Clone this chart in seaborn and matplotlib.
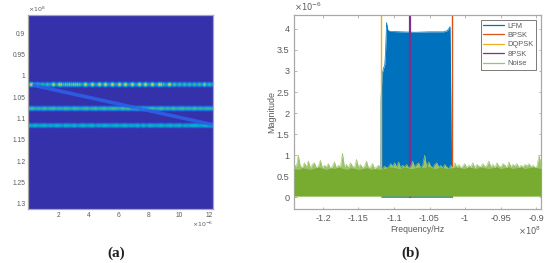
import matplotlib
matplotlib.use("Agg")
import matplotlib.pyplot as plt
from matplotlib.colors import LinearSegmentedColormap
import numpy as np
import seaborn as sns

# panel (a): time-frequency picture
tone_freqs = [1.02, 1.077, 1.117]
tone1_times = [0.26, 0.6, 0.93, 1.26, 1.72, 2.11, 2.38, 2.64, 2.91, 3.17, 3.44, 3.83, 4.3, 4.76, 5.15, 5.62, 6.08,
               6.48, 6.94, 7.4, 7.8, 8.26, 8.72, 9.0, 9.4, 9.72, 10.05, 10.38, 10.71, 11.04, 11.37, 11.7, 12.03]
tone1_levels = [.9, .55, .55, .6, .85, .85, .6, .65, .65, .7, .65, .9, .9, .9, .9, .9, .9,
                .9, .9, .9, .9, .9, .9, .6, .9, .65, .6, .6, .6, .6, .6, .75, .6]
tone2_levels = [.55, .6, .5, .55, .5, .6, .5, .55, .6, .5, .55, .5, .6, .55, .5, .6, .55, .5, .55, .6, .5,
                .55, .6, .5, .55, .6, .5, .55, .6, .55, .5, .6, .55, .6, .5, .55, .65, .55, .6, .5, .55,
                .6, .5, .55, .6, .5, .55, .5, .6, .5, .55, .6, .5, .55, .5, .6, .5, .55, .5, .55, .55, .5]
tone3_levels = [.45, .4, .5, .4, .45, .5, .4, .45, .4, .5, .45, .35, .5, .45, .4, .5, .35, .45, .5, .4, .45,
                .5, .35, .45, .4, .5, .45, .4, .45, .5, .4, .45, .5, .4, .45, .4, .5, .35, .5, .35, .5,
                .45, .4, .45, .5, .4, .45, .5, .4, .45, .5, .35, .45, .4, .45, .5, .45, .4, .45, .5, .45, .5]
lfm_times = [0.4, 12.2]
lfm_freqs = [1.022, 1.114]

time_ticks = [2, 4, 6, 8, 10, 12]
freq_ticks = [0.9, 0.95, 1, 1.05, 1.1, 1.15, 1.2, 1.25, 1.3]

# panel (b): spectrum, frequency in 1e8 Hz, magnitude in 1e-6
lfm_edge_f = [-1.1185, -1.1183, -1.117, -1.115, -1.113, -1.1118, -1.1105, -1.109, -1.106, -1.09, -1.07, -1.05, -1.03,
              -1.025, -1.023, -1.0212, -1.0205, -1.0195, -1.0185]
lfm_edge_m = [0.7, 2.3, 2.9, 3.05, 3.15, 3.5, 4.15, 3.98, 3.94, 3.93, 3.92, 3.93, 3.93,
              3.96, 4.0, 4.05, 3.2, 1.4, 0.7]
bpsk_f, dqpsk_f, psk8_f = -1.018, -1.118, -1.078
vline_m = [0, 4.4]
noise_top = [.78, .72, 1.0, .74, .7, .82, .72, .86, .7, .78, .82, .7, .74, .88, .7, .76, .72, .8, .68, .74,
             .84, .7, .76, .72, 1.05, .72, .78, .7, .82, .74, .7, .9, .72, .78, .7, .74, .86, .7, .72, .8,
             .68, .72, .76, .7, .68, .74, .7, .72, .8, .74, .82, .72, .84, .7, .76, .72, .78, .7, .74, .86,
             .72, .78, .82, .7, .76, 1.0, .72, .84, .74, .7, .78, .82, .72, .76, .7, .78, .72, .68, .76, .7,
             .82, .72, .78, .7, .74, .8, .7, .76, .72, .82, .7, .78, .74, .72, .8, .72, .76, .86, .72, .78,
             .7, .82, .74, .72, .8, .76, .7, .84, .72, .78, .74, .8, .7, .76, .72, .78, .74, .8, .72, .76,
             .7, .74, 1.0, .78]
noise_body = [.68, .66, .7, .68, .66, .69, .72, .68, .66, .7, .68, .72, .68, .66, .7, .68, .66, .68, .7, .66, .68,
              .66, .68, .7, .72, .7, .68, .72, .7, .68, .7, .72, .7, .74, .7, .68, .72, .7, .68, .7, .72,
              .7, .68, .72, .7, .68, .72, .7, .68, .7, .72, .68, .7, .72, .68, .7, .72, .68, .7, .72, .7, .68]

cols_tab = {"LFM": "#0072BD", "BPSK": "#D95319", "DQPSK": "#EDB120", "8PSK": "#7E2F8E", "Noise": "#77AC30"}
parula = LinearSegmentedColormap.from_list(
    "parula", ["#352a9f", "#2f4fe0", "#1485d4", "#06a7c6", "#38b99e", "#92bf73", "#d9ba56", "#f9e22e"])

sns.set_theme(style="ticks")
plt.rcParams["font.family"] = ["Liberation Sans", "DejaVu Sans"]
plt.rcParams["axes.edgecolor"] = "#a8a8a8"
plt.rcParams["axes.linewidth"] = 0.9
grey = "#5a5a5a"

fig = plt.figure(figsize=(5.5, 2.63), dpi=100)
W, H = 550.0, 263.0
ax1 = fig.add_axes([28 / W, 1 - 209 / H, 185 / W, 194 / H])
ax2 = fig.add_axes([294.3 / W, 1 - 209 / H, 246.7 / W, 194 / H])

# build the picture for (a), one cell per pixel
t0, t1 = 0.0, 12.25
f0, f1 = 0.857, 1.312
n_cols, n_rows = 185, 194


def to_col(t):
    return (np.asarray(t) - t0) / (t1 - t0) * n_cols


def to_row(f):
    return (np.asarray(f) - f0) / (f1 - f0) * n_rows


bead = np.array([.55, .85, 1, .85, .55])
soft = np.array([.25, .5, .25])
line1 = np.zeros(n_cols)
for t, lv in zip(tone1_times, tone1_levels):
    line1[min(int(to_col(t)), n_cols - 1)] = lv
line1 = np.maximum(np.convolve(line1, bead, mode="same"), 0.42)
line2 = np.convolve(np.repeat(tone2_levels, 3)[:n_cols], soft, mode="same")
line2[0], line2[-1] = .5, .5
line3 = np.convolve(np.repeat(tone3_levels, 3)[:n_cols], soft, mode="same")
line3[0], line3[-1] = .42, .42

profile = [.15, .45, .85, 1, .85, .45, .15]
tf = np.full((n_rows, n_cols), 0.03)
for f, line in zip(tone_freqs, [line1, line2, line3]):
    r = int(to_row(f))
    for k, p in enumerate(profile):
        tf[r + k - 3] = np.maximum(tf[r + k - 3], p * line)

sns.heatmap(tf, ax=ax1, cmap=parula, vmin=0, vmax=1, cbar=False, xticklabels=False, yticklabels=False)
sns.lineplot(x=to_col(lfm_times), y=to_row(lfm_freqs), ax=ax1, color="#2b62ea", lw=2.6, alpha=0.85,
             estimator=None, sort=False)
ax1.set_xlim(0, n_cols)
ax1.set_ylim(n_rows, 0)
ax1.set_xticks(to_col(time_ticks), [str(t) for t in time_ticks])
ax1.set_yticks(to_row(freq_ticks), [str(f) for f in freq_ticks])
ax1.tick_params(length=0, labelsize=4.8, colors=grey, pad=2)
ax1.set_xlabel("Time/s", fontsize=5, color=grey, labelpad=0.5)
ax1.set_ylabel("Frequency/Hz", fontsize=5, color=grey, labelpad=1.5)
for s in ax1.spines.values():
    s.set_visible(True)
    s.set_color("#a8a8a8")
ax1.text(0, 1.005, r"$\times10^{8}$", transform=ax1.transAxes, fontsize=4.5, color=grey, va="bottom")
ax1.text(1, -0.055, r"$\times10^{-6}$", transform=ax1.transAxes, fontsize=4.5, color=grey, ha="right", va="top")

# spectrum for (b)
noise_x = np.linspace(-1.2404, -0.893, len(noise_top))
body_x = np.linspace(-1.2404, -0.893, len(noise_body))

ax2.fill_between(lfm_edge_f, 0, lfm_edge_m, color=cols_tab["LFM"], lw=0)
sns.lineplot(x=lfm_edge_f, y=lfm_edge_m, ax=ax2, color=cols_tab["LFM"], lw=0.5, label="LFM", estimator=None)
sns.lineplot(x=[bpsk_f, bpsk_f], y=vline_m, ax=ax2, color=cols_tab["BPSK"], lw=1.0, label="BPSK",
             estimator=None, sort=False)
sns.lineplot(x=[dqpsk_f, dqpsk_f], y=vline_m, ax=ax2, color=cols_tab["DQPSK"], lw=1.0, label="DQPSK",
             estimator=None, sort=False)
sns.lineplot(x=[psk8_f, psk8_f], y=vline_m, ax=ax2, color=cols_tab["8PSK"], lw=1.6, label="8PSK",
             estimator=None, sort=False)
ax2.fill_between(noise_x, 0.03, noise_top, color="#9cc36a", lw=0, zorder=3)
ax2.fill_between(body_x, 0.03, noise_body, color=cols_tab["Noise"], lw=0, zorder=3.1)
sns.lineplot(x=noise_x, y=noise_top, ax=ax2, color="#9cc36a", lw=0.4, label="Noise", zorder=3, estimator=None)

ax2.set_xlim(-1.2404, -0.893)
ax2.set_ylim(-0.28, 4.33)
ax2.set_xticks([-1.2, -1.15, -1.1, -1.05, -1, -0.95, -0.9], ["-1.2", "-1.15", "-1.1", "-1.05", "-1", "-0.95", "-0.9"])
ax2.set_yticks([0, 0.5, 1, 1.5, 2, 2.5, 3, 3.5, 4], ["0", "0.5", "1", "1.5", "2", "2.5", "3", "3.5", "4"])
ax2.tick_params(direction="in", length=1.8, width=0.6, color="#a8a8a8", labelsize=6.6, labelcolor=grey, pad=3.5,
                top=True, right=True)
ax2.set_xlabel("Frequency/Hz", fontsize=6.2, color=grey, labelpad=1.5)
ax2.set_ylabel("Magnitude", fontsize=6.4, color=grey, labelpad=0.5)
for s in ax2.spines.values():
    s.set_visible(True)
ax2.text(0, 1.008, r"$\times10^{-6}$", transform=ax2.transAxes, fontsize=6, color=grey, va="bottom")
ax2.text(1, -0.08, r"$\times10^{8}$", transform=ax2.transAxes, fontsize=6, color=grey, ha="right", va="top")

leg = ax2.legend(loc="upper right", bbox_to_anchor=(0.9805, 0.975), fontsize=5.4, frameon=True, fancybox=False,
                 framealpha=1, edgecolor="#7a7a7a", borderpad=0.35, labelspacing=0.28, handlelength=2.8,
                 handletextpad=0.4, borderaxespad=0)
leg.get_frame().set_linewidth(0.7)
for txt in leg.get_texts():
    txt.set_color(grey)
for hl in leg.get_lines():
    hl.set_linewidth(0.9)
leg.set_zorder(10)

fig.text(116 / W, 1 - 253 / H, "(a)", family="Liberation Serif", fontsize=11, fontweight="bold", color="#222222",
         ha="center", va="center")
fig.text(411 / W, 1 - 253 / H, "(b)", family="Liberation Serif", fontsize=11, fontweight="bold", color="#222222",
         ha="center", va="center")

fig.savefig("out.png", dpi=100)
